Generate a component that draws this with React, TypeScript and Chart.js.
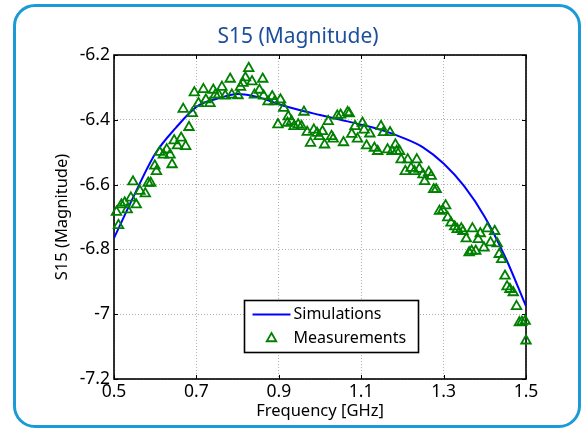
import React, { useEffect, useRef } from "react";
import { Chart, registerables } from "chart.js";

Chart.register(...registerables);

const FONT = "'Noto Sans', sans-serif";

const chartTitle = "S15 (Magnitude)";
const xTitle = "Frequency [GHz]";
const yTitle = "S15 (Magnitude)";
const seriesLabels = ["Simulations", "Measurements"];

const xTicks = [0.5, 0.7, 0.9, 1.1, 1.3, 1.5];
const yTicks = [-7.2, -7, -6.8, -6.6, -6.4, -6.2];

const simFreq = [0.5, 0.55, 0.6, 0.65, 0.7, 0.75, 0.8, 0.85, 0.9, 0.95, 1.0, 1.05, 1.1, 1.15, 1.2, 1.25, 1.3, 1.35, 1.4, 1.45, 1.5];
const simMag = [-6.765, -6.63, -6.505, -6.425, -6.36, -6.335, -6.32, -6.33, -6.352, -6.37, -6.385, -6.4, -6.415, -6.432, -6.455, -6.485, -6.535, -6.605, -6.7, -6.825, -6.975];

const measFreq = [
  0.506, 0.511, 0.518, 0.526, 0.532, 0.541, 0.546, 0.554, 0.563, 0.576, 0.583, 0.589, 0.599, 0.603, 0.611, 0.62, 0.628, 0.636, 0.641, 0.646,
  0.654, 0.663, 0.668, 0.674, 0.682, 0.69, 0.695, 0.705, 0.717, 0.723, 0.733, 0.741, 0.746, 0.754, 0.762, 0.77, 0.782, 0.786, 0.801, 0.807,
  0.813, 0.819, 0.827, 0.835, 0.841, 0.853, 0.861, 0.863, 0.874, 0.884, 0.89, 0.898, 0.904, 0.912, 0.921, 0.923, 0.931, 0.937, 0.947, 0.955,
  0.961, 0.969, 0.977, 0.985, 0.993, 0.998, 1.006, 1.011, 1.02, 1.028, 1.032, 1.042, 1.05, 1.057, 1.067, 1.071, 1.077, 1.085, 1.091, 1.103,
  1.107, 1.113, 1.121, 1.132, 1.14, 1.148, 1.154, 1.164, 1.17, 1.175, 1.183, 1.186, 1.193, 1.197, 1.207, 1.213, 1.221, 1.229, 1.235, 1.241,
  1.25, 1.254, 1.264, 1.27, 1.276, 1.282, 1.29, 1.298, 1.305, 1.31, 1.318, 1.327, 1.333, 1.343, 1.347, 1.355, 1.362, 1.368, 1.37, 1.378,
  1.384, 1.389, 1.398, 1.406, 1.414, 1.424, 1.43, 1.435, 1.441, 1.449, 1.454, 1.461, 1.469, 1.477, 1.484, 1.49, 1.498, 1.5,
];
const measMag = [
  -6.685, -6.726, -6.662, -6.656, -6.677, -6.641, -6.591, -6.662, -6.62, -6.628, -6.595, -6.595, -6.542, -6.559, -6.5, -6.508, -6.492, -6.508, -6.538, -6.464,
  -6.48, -6.456, -6.367, -6.482, -6.423, -6.38, -6.316, -6.349, -6.306, -6.338, -6.349, -6.308, -6.323, -6.323, -6.299, -6.326, -6.274, -6.323, -6.325, -6.299,
  -6.287, -6.27, -6.241, -6.282, -6.323, -6.308, -6.274, -6.326, -6.344, -6.328, -6.344, -6.415, -6.338, -6.364, -6.41, -6.39, -6.405, -6.42, -6.415, -6.42,
  -6.376, -6.438, -6.472, -6.431, -6.441, -6.451, -6.436, -6.477, -6.405, -6.451, -6.459, -6.388, -6.385, -6.47, -6.377, -6.381, -6.444, -6.42, -6.459, -6.41,
  -6.431, -6.48, -6.443, -6.487, -6.497, -6.42, -6.439, -6.492, -6.439, -6.497, -6.477, -6.497, -6.497, -6.523, -6.559, -6.523, -6.549, -6.559, -6.523, -6.552,
  -6.569, -6.59, -6.562, -6.574, -6.615, -6.615, -6.682, -6.679, -6.665, -6.702, -6.718, -6.73, -6.738, -6.736, -6.744, -6.767, -6.81, -6.805, -6.736, -6.805,
  -6.769, -6.751, -6.795, -6.736, -6.779, -6.744, -6.782, -6.815, -6.831, -6.882, -6.915, -6.923, -6.933, -6.976, -7.026, -7.024, -7.021, -7.082,
];

const BLUE = "#0000ff";
const GREEN = "#008000";
const MARK_R = 5.5;

function fmt(v: number) {
  return String(Number(v.toFixed(2)));
}

function triangle(ctx: CanvasRenderingContext2D, x: number, y: number, r: number) {
  let rad = 0;
  ctx.beginPath();
  for (let i = 0; i < 3; i++) {
    const px = x + Math.sin(rad) * r;
    const py = y - Math.cos(rad) * r;
    if (i === 0) ctx.moveTo(px, py);
    else ctx.lineTo(px, py);
    rad += (2 * Math.PI) / 3;
  }
  ctx.closePath();
}

const framePlugin = {
  id: "frame",
  beforeDatasetsDraw(chart: any) {
    const { ctx, chartArea: a, scales } = chart;
    ctx.save();
    ctx.strokeStyle = "#000";
    ctx.lineWidth = 1;
    const tl = 4;
    ctx.beginPath();
    scales.x.ticks.forEach((t: any) => {
      const px = Math.round(scales.x.getPixelForValue(t.value)) + 0.5;
      ctx.moveTo(px, a.bottom);
      ctx.lineTo(px, a.bottom - tl);
      ctx.moveTo(px, a.top);
      ctx.lineTo(px, a.top + tl);
    });
    scales.y.ticks.forEach((t: any) => {
      const py = Math.round(scales.y.getPixelForValue(t.value)) + 0.5;
      ctx.moveTo(a.left, py);
      ctx.lineTo(a.left + tl, py);
      ctx.moveTo(a.right, py);
      ctx.lineTo(a.right - tl, py);
    });
    ctx.stroke();
    ctx.lineWidth = 1.6;
    ctx.strokeRect(a.left, a.top, a.right - a.left, a.bottom - a.top);
    ctx.restore();
  },
};

const titlePlugin = {
  id: "ownTitle",
  afterDraw(chart: any) {
    const { ctx } = chart;
    ctx.save();
    ctx.fillStyle = "#1c4f9c";
    ctx.font = `21px ${FONT}`;
    ctx.textAlign = "center";
    ctx.textBaseline = "middle";
    ctx.fillText(chartTitle, 298, 37);
    ctx.restore();
  },
};

const legendPlugin = {
  id: "ownLegend",
  afterDatasetsDraw(chart: any) {
    const { ctx, chartArea: a } = chart;
    const ds = chart.data.datasets;
    const bx = a.left + 130.5;
    const by = a.top + 245.5;
    const bw = 174;
    const bh = 52;
    ctx.save();
    ctx.fillStyle = "#fff";
    ctx.fillRect(bx, by, bw, bh);
    ctx.strokeStyle = "#000";
    ctx.lineWidth = 1.6;
    ctx.strokeRect(bx, by, bw, bh);
    ctx.font = `16px ${FONT}`;
    ctx.fillStyle = "#000";
    ctx.textBaseline = "middle";
    ctx.textAlign = "left";
    // line entry
    ctx.strokeStyle = BLUE;
    ctx.lineWidth = 2;
    ctx.beginPath();
    ctx.moveTo(bx + 8, by + 14);
    ctx.lineTo(bx + 46, by + 14);
    ctx.stroke();
    ctx.fillText(ds[1].label, bx + 49, by + 14);
    // marker entry
    ctx.strokeStyle = GREEN;
    ctx.lineWidth = 1.8;
    triangle(ctx, bx + 27, by + 38, MARK_R);
    ctx.stroke();
    ctx.fillText(ds[0].label, bx + 49, by + 38);
    ctx.restore();
  },
};

export default function App() {
  const ref = useRef<HTMLCanvasElement | null>(null);

  useEffect(() => {
    if (!ref.current) return;
    const gridCommon = {
      color: "#b0b0b0",
      lineWidth: 1,
      drawTicks: false,
      borderDash: [1, 2],
    };
    const chart = new Chart(ref.current, {
      type: "scatter",
      data: {
        datasets: [
          {
            label: seriesLabels[1],
            data: measFreq.map((f, i) => ({ x: f, y: measMag[i] })),
            pointStyle: "triangle",
            pointRadius: MARK_R,
            pointBorderWidth: 1.8,
            pointBorderColor: GREEN,
            pointBackgroundColor: "rgba(0,0,0,0)",
            borderColor: GREEN,
            backgroundColor: "rgba(0,0,0,0)",
            showLine: false,
            clip: false,
            order: 0,
          } as any,
          {
            label: seriesLabels[0],
            data: simFreq.map((f, i) => ({ x: f, y: simMag[i] })),
            showLine: true,
            borderColor: BLUE,
            borderWidth: 2,
            pointRadius: 0,
            cubicInterpolationMode: "monotone",
            fill: false,
            order: 1,
          } as any,
        ],
      },
      options: {
        animation: false,
        responsive: false,
        events: [],
        layout: { padding: { left: 0, top: 55, right: 59, bottom: 0 } },
        plugins: {
          legend: { display: false },
          title: { display: false },
          tooltip: { enabled: false },
        },
        scales: {
          x: {
            type: "linear",
            min: 0.5,
            max: 1.5,
            afterFit: (s: any) => {
              s.height = 50;
            },
            afterBuildTicks: (s: any) => {
              s.ticks = xTicks.map((v) => ({ value: v }));
            },
            ticks: {
              color: "#000",
              font: { size: 17.5, family: FONT },
              padding: 3,
              maxRotation: 0,
              autoSkip: false,
              callback: (v: any) => fmt(Number(v)),
            },
            grid: gridCommon as any,
            border: { display: false, dash: [1, 2] },
            title: {
              display: true,
              text: xTitle,
              color: "#000",
              font: { size: 16.5, family: FONT },
              padding: { top: 0, bottom: 8 },
            },
          },
          y: {
            type: "linear",
            min: -7.2,
            max: -6.2,
            afterFit: (s: any) => {
              s.width = 114;
            },
            afterBuildTicks: (s: any) => {
              s.ticks = yTicks.map((v) => ({ value: v }));
            },
            ticks: {
              color: "#000",
              font: { size: 17.5, family: FONT },
              padding: 4,
              autoSkip: false,
              callback: (v: any) => fmt(Number(v)),
            },
            grid: gridCommon as any,
            border: { display: false, dash: [1, 2] },
            title: {
              display: true,
              text: yTitle,
              color: "#000",
              font: { size: 16.5, family: FONT },
              padding: { top: 52, bottom: 0 },
            },
          },
        },
      } as any,
      plugins: [framePlugin, legendPlugin, titlePlugin],
    });
    return () => chart.destroy();
  }, []);

  return (
    <div style={{ position: "fixed", left: 0, top: 0, width: 585, height: 429, background: "#fff", overflow: "hidden" }}>
      <div
        style={{
          position: "absolute",
          left: 13,
          top: 4,
          width: 568,
          height: 424,
          boxSizing: "border-box",
          border: "3px solid #1b9ad8",
          borderRadius: 22,
        }}
      />
      <canvas ref={ref} width={585} height={429} style={{ position: "absolute", left: 0, top: 0, width: 585, height: 429 }} />
    </div>
  );
}
